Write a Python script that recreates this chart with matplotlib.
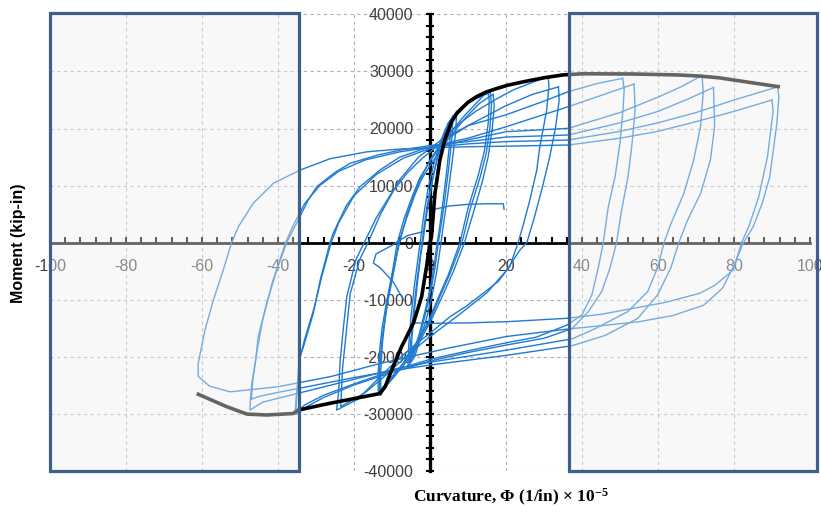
import matplotlib.pyplot as plt
from matplotlib.patches import Rectangle
from matplotlib.ticker import MultipleLocator

# ---- data (curvature x1e-5 1/in, moment kip-in) ----
initial = [(0, 0), (0.5, 4000), (1.2, 9000), (2, 13000), (3, 16500), (4, 19000), (5.5, 21500)]

# small cycles (about +/-5)
loop_1a = [(5.5, 21500), (5.2, 17500), (4.3, 12000), (3.3, 6500), (2.4, 2000), (1.9, 0), (1.1, -4000),
           (0.1, -8000), (-1.3, -12000), (-2.8, -16000), (-4.2, -19000), (-5.0, -20500), (-4.8, -17000),
           (-4.1, -12000), (-3.2, -6500), (-2.4, -2000), (-1.9, 0), (-1.1, 4000), (-0.1, 8000), (1.0, 12000),
           (2.3, 16000), (3.9, 19500), (6.0, 22200)]
loop_1b = [(6.0, 22200), (5.8, 18500), (4.9, 13000), (3.8, 7000), (2.8, 2500), (2.2, 0), (1.3, -4500),
           (0.2, -8500), (-1.2, -12500), (-2.7, -16500), (-4.3, -19800), (-5.4, -21000), (-5.1, -17500),
           (-4.4, -12500), (-3.5, -7000), (-2.6, -2500), (-2.1, 0), (-1.2, 4500), (-0.2, 8500), (1.1, 12500),
           (2.6, 16500), (4.5, 20200), (7.0, 23000)]
loop_1c = [(7.0, 23000), (6.8, 19500), (5.8, 14000), (4.6, 8000), (3.5, 3000), (2.9, 0), (1.8, -5000),
           (0.5, -9500), (-1.0, -13500), (-2.6, -17000), (-4.0, -20000), (-5.8, -21800), (-5.6, -18000),
           (-5.0, -13000), (-4.1, -7500), (-3.2, -3000), (-2.6, 0), (-1.6, 5000), (-0.5, 9500), (0.9, 13500),
           (2.6, 17500), (4.8, 21000), (8.0, 23600), (12, 25200), (15.8, 26300)]

# cycles to about +16 / -13
loop_2a = [(15.8, 26300), (16.2, 24500), (15.8, 20300), (14.8, 15650), (13.2, 11500), (10.5, 5700), (8.8, 1000),
           (8.4, 0), (5.3, -5400), (2.6, -9500), (0, -13600), (-3.5, -17700), (-7, -21200), (-10, -23500),
           (-12.3, -25300), (-13.2, -26500), (-13.3, -23000), (-12.8, -18000), (-12.3, -15400), (-11, -10000),
           (-9.5, -5000), (-8.2, 0), (-6.3, 4000), (-4.2, 8000), (-2.3, 11000), (0, 13500), (3, 16500),
           (6, 19200), (9.5, 22000), (13, 24400), (16.6, 26000)]
loop_2b = [(16.6, 26000), (16.9, 24000), (16.4, 20000), (15.3, 15000), (13.7, 10500), (11.3, 5000), (9.6, 1200),
           (9.1, 0), (6.2, -5000), (3.4, -9200), (0.6, -13200), (-2.8, -17500), (-6.3, -21000), (-9.6, -23700),
           (-12, -25500), (-13.6, -26200), (-13.7, -23500), (-13.2, -18500), (-12.6, -15000), (-11.4, -10300),
           (-9.9, -5200), (-8.6, 0), (-6.8, 4200), (-4.6, 8200), (-2.7, 11300), (-0.4, 13800), (2.6, 16800),
           (5.6, 19500), (9, 22200), (12.4, 24600), (15.2, 26600)]
loop_2c = [(15.2, 26600), (15.6, 24800), (15.3, 20800), (14.3, 16000), (12.7, 11800), (10, 6000), (8.3, 1200),
           (7.9, 0), (4.8, -5700), (2.1, -9800), (-0.5, -14000), (-4, -18000), (-7.4, -21500), (-10.2, -24000),
           (-12.4, -26000), (-12.9, -26800), (-13, -23000), (-12.5, -17500), (-11.5, -11500), (-10, -6000),
           (-8.5, -1500), (-8, 0), (-6, 5000), (-3, 10500), (0, 14500), (4, 18500), (8, 21000), (12, 23000),
           (17, 25000), (22, 26800), (27, 28100), (31.1, 29100)]

# cycles to about +32 / -24
loop_3a = [(31.1, 29100), (31.3, 27500), (30.7, 23200), (28.9, 16800), (28.1, 12700), (26.3, 7500), (24.5, 3000),
           (23.2, 0), (21, -4200), (18, -6800), (14, -8900), (9.5, -11200), (5.3, -13000), (0, -15900),
           (-5, -18500), (-10, -21500), (-15, -24800), (-19, -27500), (-24.6, -29400), (-24, -26000),
           (-23.7, -21200), (-22.8, -15000), (-21.9, -9500), (-19.5, -3000), (-17.3, 0), (-14, 4500),
           (-10, 8800), (-6, 12200), (-2, 14800), (3, 17500), (10, 20500), (20, 24000), (27, 26000), (33.8, 27300)]
loop_3b = [(33.8, 27300), (34, 25000), (33, 20000), (31.5, 15000), (29.5, 9500), (27.5, 4500), (25.5, 0),
           (23.7, -1300), (20, -5000), (15, -8800), (8, -12500), (0, -16500), (-6, -19800), (-12, -23500),
           (-17, -26300), (-23.5, -28800), (-23, -22000), (-21, -9000), (-18.5, -3000), (-16.3, 0), (-13, 5000),
           (-8, 11000), (-3, 15000), (3, 18000), (10, 20500), (20, 22400), (30, 24800), (36.4, 26460),
           (44, 27900), (50.7, 28800)]

# cycles to about +52 / -35
loop_4a = [(50.7, 28800), (51.1, 26900), (50.8, 23400), (50, 17500), (48.7, 11500), (46.9, 6200), (45.6, 0),
           (44.3, -4400), (42.6, -9200), (40, -12700), (36, -14500), (28, -16600), (20, -17600), (10, -19000),
           (0, -20500), (-10, -22500), (-20, -24800), (-28, -26800), (-33, -28500), (-35.5, -30000),
           (-35.2, -27000), (-34.6, -24000), (-34.2, -20000), (-33.3, -18300), (-30.7, -12400), (-28.9, -6600),
           (-26.3, 0), (-25.5, 1600), (-22, 6500), (-18.4, 9800), (-13, 12800), (-7.9, 15000), (0, 16800),
           (10, 18300), (20, 20300), (36.4, 23830), (45, 25800), (53.7, 27800)]
loop_4b = [(53.7, 27800), (54, 23400), (53.2, 17500), (52.1, 11500), (50.4, 5600), (49.1, 0), (47.4, -4400),
           (45.2, -8600), (41.7, -12100), (37.4, -15100), (30, -16800), (20, -18000), (10, -19300), (0, -20800),
           (-10, -22800), (-20, -25000), (-28, -27200), (-33, -29000), (-35.3, -30200), (-35, -26000),
           (-34.5, -21000), (-33, -17000), (-30.5, -11500), (-28.5, -6000), (-26, 0), (-24, 3500), (-20, 8200),
           (-14, 12000), (-7, 14800), (0, 16500), (10, 18000), (20, 19440), (36.4, 20030), (50, 22800),
           (60, 25500), (66, 27300), (71.6, 29300)]

# cycles to about +73 / -47
loop_5a = [(71.6, 29300), (71.9, 26300), (71.2, 20400), (69.4, 14500), (66.8, 8600), (63.4, 3300), (61.6, 0),
           (59.9, -4400), (57.3, -8600), (52.1, -12100), (43.5, -15100), (37.4, -16900), (20, -18900),
           (0, -21000), (-8, -22000), (-20, -24000), (-35, -26500), (-44, -28000), (-47.4, -29400),
           (-47.2, -27000), (-46.9, -24700), (-46, -21200), (-45.2, -16500), (-43, -10700), (-40.3, -4800),
           (-37.7, 0), (-35.1, 3400), (-32, 7500), (-29.8, 9800), (-25, 12300), (-21, 13900), (-14, 15300),
           (-7.9, 16200), (0, 17000), (10, 17700), (20, 18500), (36.4, 18860), (50, 21000), (60, 23000),
           (68, 25200), (74.6, 27200)]
loop_5b = [(74.6, 27200), (74.9, 20400), (73.8, 14500), (71.2, 8600), (67.7, 3800), (65.5, 0), (63.4, -4400),
           (59.9, -9200), (54.7, -13300), (46.1, -16300), (37.4, -18100), (20, -19800), (0, -21500),
           (-10, -22500), (-20, -23700), (-30, -25000), (-40, -26300), (-45, -27000), (-47, -27500),
           (-46.6, -24000), (-45.5, -19000), (-44, -13500), (-41.5, -7000), (-39, -2000), (-38, 0), (-36, 3000),
           (-33, 6800), (-29, 10000), (-24, 12500), (-17, 14500), (-8, 15900), (0, 16700), (10, 17300),
           (20, 17700), (36.4, 17980), (50, 19500), (60, 21000), (70, 22800), (80, 25000), (91.5, 27300)]

# cycles to about +91 / -61
loop_6a = [(91.5, 27300), (91.8, 25500), (91.3, 21000), (90.5, 17000), (89.4, 11500), (87.5, 7000), (85, 2700),
           (82.5, 0), (80, -4000), (77, -8000), (72, -11000), (64, -12800), (55, -13900), (45, -14600),
           (36, -15200), (20, -16500), (5, -18500), (-5, -20000), (-13, -21200), (-26, -23500), (-40, -25300),
           (-52.6, -26200), (-58, -25200), (-61, -23500), (-61, -21200), (-59.2, -15300), (-57, -10100),
           (-54.4, -4800), (-52.2, 0), (-50.4, 2800), (-46.5, 6900), (-41.2, 10400), (-34.2, 12700),
           (-26.3, 14700), (-16.7, 15900), (-8, 16400), (0, 16600), (10, 16800), (20, 16900), (36.4, 17100),
           (50, 18300), (60, 19500), (70, 21200), (80, 23000), (90, 25000)]
loop_6b = [(90, 25000), (90.3, 23000), (89.8, 20400), (88.8, 15000), (86.5, 8000), (84, 3000), (82, 0),
           (79.8, -4800), (75, -7500), (71, -8900), (62, -10500), (53.5, -11550), (45, -12600), (36, -13300),
           (20, -13900), (10, -14100), (0, -14180), (-4, -14100)]

stray_1 = [(1, 5800), (5, 6400), (10, 6700), (15, 6800), (19.3, 6800), (19.5, 5800)]
stray_2 = [(-1.8, 1900), (-6, 1200), (-10, -500), (-14.2, -2000), (-14.9, -3600), (-13, -4500),
           (-9.6, -7000), (-7, -10000)]

loops = [initial, loop_1a, loop_1b, loop_1c, loop_2a, loop_2b, loop_2c, loop_3a, loop_3b,
         loop_4a, loop_4b, loop_5a, loop_5b, loop_6a, loop_6b, stray_1, stray_2]

env_pos = [(0, 0), (0.4, 1000), (1.3, 8600), (2.6, 14500), (3.9, 18000), (5.7, 21200), (7, 22600),
           (8.3, 23500), (10, 24600), (12.3, 25600), (14.8, 26400), (17.5, 27000), (20.5, 27600),
           (24.6, 28200), (30, 28900), (35, 29400), (40, 29600), (53.5, 29560), (65, 29400), (71, 29200),
           (76, 28900), (80, 28500), (86, 27900), (92.1, 27300)]
env_neg = [(0, 0), (-0.9, -4200), (-2.2, -9500), (-4.4, -14200), (-7.5, -18300), (-10.1, -22400),
           (-11.8, -25300), (-13.2, -26500), (-19.3, -27300), (-26.3, -28200), (-34.7, -29400), (-36, -30000),
           (-43, -30260), (-48.2, -30100), (-53.5, -28800), (-61.4, -26500)]

# shaded regions (curvature limits)
box_left = (-100, -34.4)
box_right = (36.6, 101.8)

plt.rcParams['axes.unicode_minus'] = False
plt.rcParams['mathtext.fontset'] = 'custom'
plt.rcParams['mathtext.rm'] = 'Liberation Serif:bold'
plt.rcParams['mathtext.it'] = 'Liberation Serif:bold'

fig = plt.figure(figsize=(8.21, 5.14), dpi=100)
ax = fig.add_axes([0.0609, 0.0846, 0.9257, 0.8872])

for lp in loops:
    xs = [p[0] for p in lp]
    ys = [p[1] for p in lp]
    ax.plot(xs, ys, color='#1f7ad1', lw=1.0, zorder=3)

for env in (env_pos, env_neg):
    ax.plot([p[0] for p in env], [p[1] for p in env], color='black', lw=2.6, zorder=4,
            solid_capstyle='butt')

ax.set_xlim(-100, 100)
ax.set_ylim(-40000, 40000)
ax.xaxis.set_major_locator(MultipleLocator(20))
ax.xaxis.set_minor_locator(MultipleLocator(4))
ax.yaxis.set_major_locator(MultipleLocator(10000))
ax.yaxis.set_minor_locator(MultipleLocator(2000))

ax.spines['left'].set_position(('data', 0))
ax.spines['bottom'].set_position(('data', 0))
ax.spines['left'].set_linewidth(2.4)
ax.spines['bottom'].set_linewidth(2.0)
ax.spines['top'].set_visible(False)
ax.spines['right'].set_visible(False)

ax.grid(True, which='major', color='#b0b0b0', ls=(0, (3, 3)), lw=0.8)
ax.set_axisbelow(True)

ax.tick_params(axis='x', which='both', direction='in', length=4, width=1.5, pad=12,
               labelsize=11.5, labelcolor='#404040')
ax.tick_params(axis='y', which='both', direction='inout', length=6, width=1.5, pad=9,
               labelsize=11.5, labelcolor='#404040')
for lab in ax.get_xticklabels() + ax.get_yticklabels():
    lab.set_fontfamily('Liberation Sans')

for x0, x1 in (box_left, box_right):
    ax.add_patch(Rectangle((x0, -40000), x1 - x0, 80200, facecolor='#f0f0f0', alpha=0.42,
                           edgecolor='none', zorder=5, clip_on=False))
    ax.add_patch(Rectangle((x0, -40000), x1 - x0, 80200, fill=False, edgecolor='#3c5f8c',
                           lw=2.3, zorder=6, clip_on=False))

fig.text(0.022, 0.527, 'Moment (kip-in)', rotation=90, ha='center', va='center',
         fontsize=11.5, fontweight='bold', family='Liberation Sans')
fig.text(0.622, 0.033, r'Curvature, Φ (1/in) × 10$^{-5}$', ha='center', va='center',
         fontsize=12.5, fontweight='bold', family='Liberation Serif')

fig.savefig('out.png', dpi=100)
